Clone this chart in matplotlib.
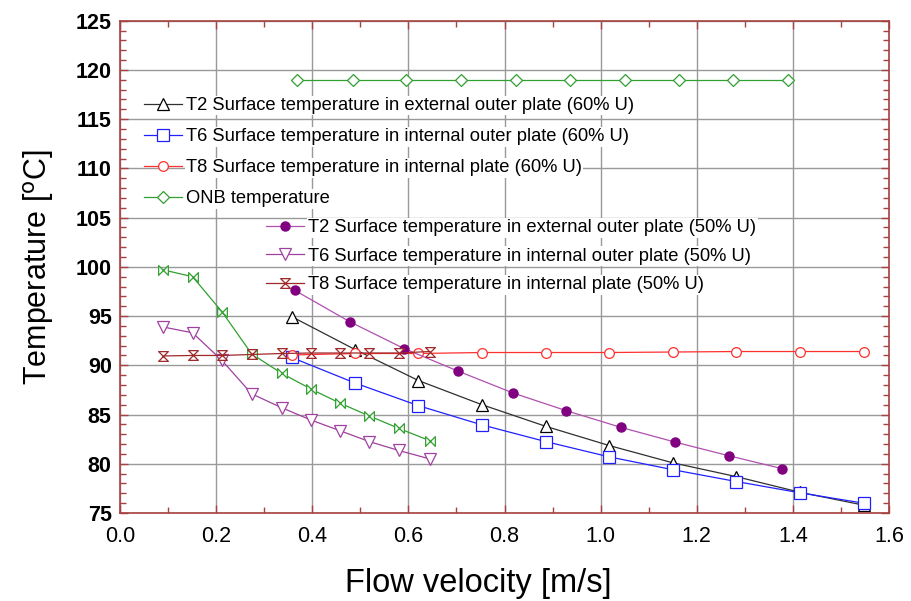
import matplotlib
matplotlib.use("Agg")
import matplotlib.pyplot as plt
from matplotlib.path import Path
from matplotlib.ticker import MultipleLocator, FormatStrFormatter

# ---------------- data ----------------
x60 = [0.357, 0.489, 0.621, 0.753, 0.886, 1.018, 1.150, 1.282, 1.415, 1.547]
t2_60 = [94.95, 91.6, 88.45, 86.0, 83.8, 81.85, 80.1, 78.7, 77.1, 75.8]
t6_60 = [90.8, 88.2, 85.9, 83.95, 82.25, 80.7, 79.4, 78.2, 77.05, 76.0]
t8_60 = [91.05, 91.2, 91.2, 91.3, 91.3, 91.3, 91.35, 91.4, 91.4, 91.4]

x_onb = [0.368, 0.484, 0.595, 0.709, 0.823, 0.936, 1.050, 1.163, 1.275, 1.389]
onb = [119.0] * 10

x_t2_50 = [0.364, 0.479, 0.591, 0.704, 0.817, 0.928, 1.042, 1.155, 1.268, 1.378]
t2_50 = [97.6, 94.4, 91.7, 89.4, 87.2, 85.4, 83.7, 82.2, 80.8, 79.5]

x50 = [0.089, 0.151, 0.212, 0.274, 0.336, 0.397, 0.458, 0.519, 0.580, 0.644]
t6_50 = [93.9, 93.3, 90.5, 87.1, 85.7, 84.45, 83.35, 82.25, 81.35, 80.5]
t8_50 = [90.95, 91.0, 91.0, 91.1, 91.2, 91.25, 91.25, 91.25, 91.25, 91.4]
green_50 = [99.7, 99.0, 95.45, 91.15, 89.2, 87.6, 86.15, 84.85, 83.6, 82.35]

labels = [
    "T2 Surface temperature in external outer plate (60% U)",
    "T6 Surface temperature in internal outer plate (60% U)",
    "T8 Surface temperature in internal plate (60% U)",
    "ONB temperature",
    "T2 Surface temperature in external outer plate (50% U)",
    "T6 Surface temperature in internal outer plate (50% U)",
    "T8 Surface temperature in internal plate (50% U)",
]

# ---------------- markers ----------------
hourglass = Path([(-1, 1), (1, 1), (-1, -1), (1, -1), (-1, 1)],
                 [Path.MOVETO, Path.LINETO, Path.LINETO, Path.LINETO, Path.CLOSEPOLY])
bowtie = Path([(-1, 1), (-1, -1), (1, 1), (1, -1), (-1, 1)],
              [Path.MOVETO, Path.LINETO, Path.LINETO, Path.LINETO, Path.CLOSEPOLY])

plt.rcParams['font.family'] = ['Liberation Sans', 'DejaVu Sans']

fig = plt.figure(figsize=(9.12, 6.01), dpi=100)
ax = fig.add_axes([0.1316, 0.1464, 0.8432, 0.8192])

lw = 0.9
h1 = ax.plot(x60, t2_60, color='#303030', lw=lw, marker='^', ms=8, mfc='white', mec='black', mew=0.9)[0]
h2 = ax.plot(x60, t6_60, color='#2020ff', lw=lw, marker='s', ms=8, mfc='white', mec='#2020ff', mew=0.9)[0]
h3 = ax.plot(x60, t8_60, color='#ff3030', lw=lw, marker='o', ms=7, mfc='white', mec='#ff3030', mew=0.9)[0]
h4 = ax.plot(x_onb, onb, color='#30a030', lw=lw, marker='D', ms=6, mfc='white', mec='#30a030', mew=0.9)[0]
h5 = ax.plot(x_t2_50, t2_50, color='#b050b0', lw=lw, marker='o', ms=6.5, mfc='#800080', mec='#800080')[0]
h6 = ax.plot(x50, t6_50, color='#a040a0', lw=lw, marker='v', ms=8, mfc='white', mec='#a040a0', mew=0.9)[0]
ax.plot(x50, green_50, color='#30a030', lw=lw, marker=bowtie, ms=7, mfc='white', mec='#30a030', mew=0.9)
h7 = ax.plot(x50, t8_50, color='#a02828', lw=lw, marker=hourglass, ms=7, mfc='white', mec='#a02828', mew=0.9)[0]

ax.set_xlim(0, 1.6)
ax.set_ylim(75, 125)
ax.xaxis.set_major_locator(MultipleLocator(0.2))
ax.xaxis.set_minor_locator(MultipleLocator(0.1))
ax.yaxis.set_major_locator(MultipleLocator(5))
ax.yaxis.set_minor_locator(MultipleLocator(1))
ax.xaxis.set_major_formatter(FormatStrFormatter('%.1f'))
ax.grid(True, which='major', color='#999999', lw=1.0)
ax.set_axisbelow(True)

spc = '#a84040'
for s in ax.spines.values():
    s.set_color(spc)
    s.set_linewidth(1.2)
ax.tick_params(which='both', direction='in', top=True, right=True, color=spc)
ax.tick_params(which='major', length=6, width=1.0)
ax.tick_params(which='minor', length=4, width=1.0)
for lab in ax.get_xticklabels():
    lab.set_fontsize(15.5)
for lab in ax.get_yticklabels():
    lab.set_fontsize(15.5)
    lab.set_fontweight('bold')
ax.tick_params(axis='x', pad=9)
ax.tick_params(axis='y', pad=6)

ax.set_xlabel('Flow velocity [m/s]', fontsize=23.5)
ax.xaxis.set_label_coords(0.466, -0.112)
ax.set_ylabel('Temperature [$^{\\rm o}$C]', fontsize=22, labelpad=14)

leg1 = ax.legend([h1, h2, h3, h4], labels[:4], loc='upper left',
                 bbox_to_anchor=(0.031, 0.845), frameon=False, fontsize=13.2,
                 handlelength=2.08, handletextpad=0.22, labelspacing=0.77,
                 borderpad=0, borderaxespad=0)
for t in leg1.get_texts():
    t.set_bbox(dict(facecolor='white', edgecolor='none', pad=1))
ax.add_artist(leg1)
leg2 = ax.legend([h5, h6, h7], labels[4:], loc='upper left',
                 bbox_to_anchor=(0.19, 0.597), frameon=False, fontsize=13.2,
                 handlelength=2.08, handletextpad=0.22, labelspacing=0.63,
                 borderpad=0, borderaxespad=0)
for t in leg2.get_texts():
    t.set_bbox(dict(facecolor='white', edgecolor='none', pad=1))

fig.savefig('out.png', dpi=100)
